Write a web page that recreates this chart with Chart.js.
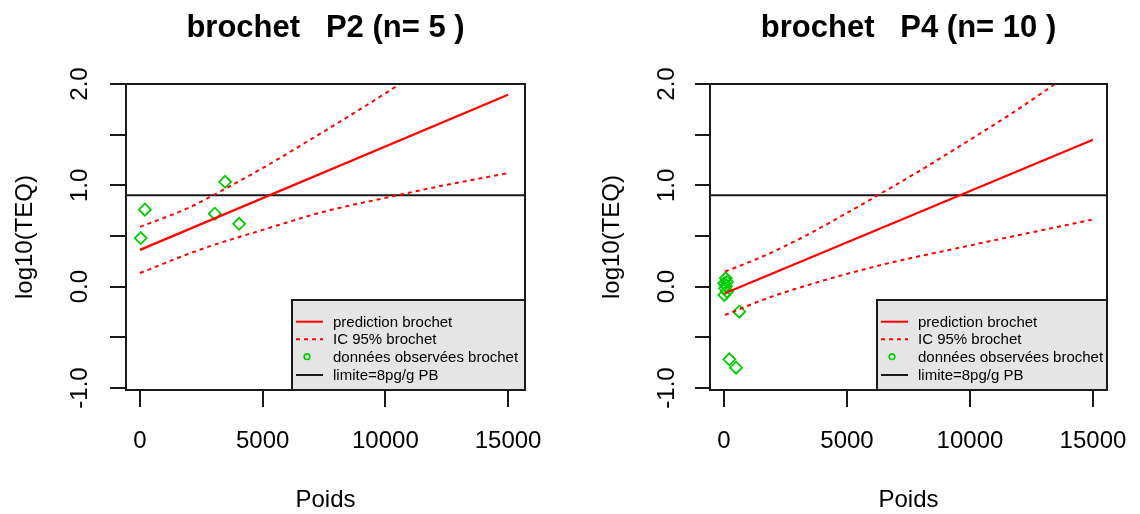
<!DOCTYPE html>
<html><head><meta charset="utf-8">
<script src="https://cdn.jsdelivr.net/npm/chart.js@4"></script>
<style>
html,body{margin:0;padding:0;background:#fff;}
body{width:1140px;height:514px;position:relative;overflow:hidden;}
.panel{position:absolute;top:0;height:514px;}
canvas{display:block;}
</style></head><body>
<div class="panel" style="left:0;width:570px"><canvas id="c1" width="570" height="514"></canvas></div>
<div class="panel" style="left:584px;width:556px"><canvas id="c2" width="556" height="514"></canvas></div>
<script>
// ---------- data ----------
const titles = ['brochet   P2 (n= 5 )', 'brochet   P4 (n= 10 )'];
const xTicks = [0, 5000, 10000, 15000];
const yTicks = [-1, -0.5, 0, 0.5, 1, 1.5, 2];
const limitValue = 0.903;
const legendLabels = ['prediction brochet', 'IC 95% brochet', 'données observées brochet', 'limite=8pg/g PB'];

// P2 (left panel)
const p2PointsX = [30, 200, 3050, 3470, 4040];
const p2PointsY = [0.48, 0.76, 0.72, 1.035, 0.62];
const p2PredX = [0, 15000];
const p2PredY = [0.363, 1.894];
const p2UpperX = [0, 2000, 3500, 5000, 6800, 8700, 10600];
const p2UpperY = [0.59, 0.78, 0.97, 1.17, 1.43, 1.71, 2.0];
const p2LowerX = [0, 2500, 5000, 7500, 10000, 12500, 15000];
const p2LowerY = [0.135, 0.37, 0.56, 0.74, 0.876, 1.005, 1.12];

// P4 (right panel)
const p4PointsX = [10, 70, 120, 40, 80, 15, 120, 620, 215, 490];
const p4PointsY = [0.034, 0.083, 0.045, -0.016, 0.007, -0.082, -0.05, -0.247, -0.717, -0.80];
const p4PredX = [40, 15000];
const p4PredY = [-0.065, 1.45];
const p4UpperX = [40, 1500, 3300, 4800, 6270, 8000, 9870, 11700, 13455];
const p4UpperY = [0.148, 0.29, 0.50, 0.70, 0.905, 1.15, 1.43, 1.71, 2.0];
const p4LowerX = [40, 1940, 6000, 10070, 14950];
const p4LowerY = [-0.28, -0.099, 0.19, 0.41, 0.66];

// ---------- helpers ----------
const FONT = "'Liberation Sans', Arial, Helvetica, sans-serif";
const RED = '#ff0000', GREEN = '#00cd00', INK = '#1a1a1a';
const pts = (xs, ys) => xs.map((x, i) => ({x: x, y: ys[i]}));

const boxPlugin = {
  id: 'rbox',
  afterDatasetsDraw(chart) {
    const ca = chart.chartArea, ctx = chart.ctx;
    ctx.save();
    ctx.strokeStyle = INK; ctx.lineWidth = 2;
    ctx.strokeRect(ca.left, ca.top, ca.right - ca.left, ca.bottom - ca.top);
    ctx.restore();
  }
};

const legendPlugin = {
  id: 'rlegend',
  afterDraw(chart, args, opts) {
    const ca = chart.chartArea, ctx = chart.ctx;
    const w = opts.width, h = opts.height;
    const x0 = ca.right - w, y0 = ca.bottom - h;
    ctx.save();
    ctx.fillStyle = '#e5e5e5';
    ctx.fillRect(x0, y0, w, h);
    ctx.strokeStyle = INK; ctx.lineWidth = 2;
    ctx.strokeRect(x0, y0, w, h);
    const rows = [21.7, 39.3, 56.7, 75];
    ctx.font = '15px ' + FONT;
    ctx.fillStyle = '#000';
    ctx.textBaseline = 'middle';
    ctx.textAlign = 'left';
    legendLabels.forEach((lab, i) => {
      const y = y0 + rows[i];
      ctx.save();
      if (i === 0 || i === 1 || i === 3) {
        ctx.strokeStyle = i === 3 ? INK : RED;
        ctx.lineWidth = 2;
        if (i === 1) ctx.setLineDash([4, 4]);
        ctx.beginPath(); ctx.moveTo(x0 + 4, y); ctx.lineTo(x0 + 31, y); ctx.stroke();
      } else {
        ctx.strokeStyle = GREEN; ctx.lineWidth = 1.6;
        ctx.beginPath(); ctx.arc(x0 + 15, y, 2.8, 0, Math.PI * 2); ctx.stroke();
      }
      ctx.restore();
      ctx.fillText(lab, x0 + 41, y + 1);
    });
    ctx.restore();
  }
};

function makeChart(id, cfg) {
  const datasets = [
    {label: legendLabels[0], data: pts(cfg.predX, cfg.predY), showLine: true, borderColor: RED, borderWidth: 2.2, pointRadius: 0},
    {label: legendLabels[1], data: pts(cfg.upX, cfg.upY), showLine: true, borderColor: RED, borderWidth: 2, borderDash: [4, 4], pointRadius: 0, cubicInterpolationMode: 'monotone'},
    {label: legendLabels[1], data: pts(cfg.loX, cfg.loY), showLine: true, borderColor: RED, borderWidth: 2, borderDash: [4, 4], pointRadius: 0, cubicInterpolationMode: 'monotone'},
    {label: legendLabels[3], data: [{x: cfg.xMin, y: limitValue}, {x: cfg.xMax, y: limitValue}], showLine: true, borderColor: INK, borderWidth: 2, pointRadius: 0},
    {label: legendLabels[2], data: pts(cfg.ptX, cfg.ptY), showLine: false, pointStyle: 'rectRot', pointRadius: 6, pointBorderWidth: 1.8, pointBorderColor: GREEN, pointBackgroundColor: 'rgba(0,0,0,0)', borderColor: GREEN, backgroundColor: 'rgba(0,0,0,0)'}
  ];
  return new Chart(document.getElementById(id), {
    type: 'scatter',
    data: {datasets: datasets},
    options: {
      responsive: false, animation: false, devicePixelRatio: 1,
      layout: {padding: {left: 0, right: cfg.padRight, top: 0, bottom: 0}},
      plugins: {
        legend: {display: false},
        tooltip: {enabled: false},
        title: {display: true, text: cfg.title, fullSize: false, align: 'center', color: '#000',
          font: {family: FONT, size: 31, weight: 'bold', lineHeight: 1.2}, padding: {top: 10, bottom: 36.8}},
        rlegend: {width: cfg.legW, height: 90}
      },
      scales: {
        x: {
          type: 'linear', min: cfg.xMin, max: cfg.xMax,
          afterBuildTicks: s => { s.ticks = xTicks.map(v => ({value: v})); },
          afterFit: s => { s.height = 124; s.paddingLeft = 0; s.paddingRight = 0; },
          ticks: {autoSkip: false, minRotation: 0, maxRotation: 0, padding: 20, color: '#000',
            font: {family: FONT, size: 24}, callback: v => String(v)},
          grid: {drawOnChartArea: false, drawTicks: true, tickLength: 17, color: INK, lineWidth: 2},
          border: {display: true, color: INK, width: 2},
          title: {display: true, text: 'Poids', color: '#000', font: {family: FONT, size: 24, lineHeight: 1}, padding: {top: 0, bottom: 2}}
        },
        y: {
          type: 'linear', min: -1.02, max: 2.0,
          afterBuildTicks: s => { s.ticks = yTicks.map(v => ({value: v})); },
          afterFit: s => { s.width = 126; s.paddingTop = 0; s.paddingBottom = 0; },
          ticks: {autoSkip: false, minRotation: 90, maxRotation: 90, crossAlign: 'center', padding: cfg.yTickPad, color: '#000',
            font: {family: FONT, size: 24}, callback: v => Number.isInteger(v) ? v.toFixed(1) : ''},
          grid: {drawOnChartArea: false, drawTicks: true, tickLength: cfg.yTickLen, color: INK, lineWidth: 2},
          border: {display: true, color: INK, width: 2},
          title: {display: true, text: 'log10(TEQ)', color: '#000', font: {family: FONT, size: 24, lineHeight: 1}, padding: {top: cfg.yTitlePad, bottom: 0}}
        }
      }
    },
    plugins: [boxPlugin, legendPlugin]
  });
}

makeChart('c1', {title: titles[0], padRight: 45, xMin: -570, xMax: 15690, legW: 233,
  yTickPad: 9.3, yTickLen: 16, yTitlePad: 13,
  predX: p2PredX, predY: p2PredY, upX: p2UpperX, upY: p2UpperY, loX: p2LowerX, loY: p2LowerY, ptX: p2PointsX, ptY: p2PointsY});
makeChart('c2', {title: titles[1], padRight: 33, xMin: -570, xMax: 15570, legW: 230,
  yTickPad: 7.3, yTickLen: 15, yTitlePad: 16,
  predX: p4PredX, predY: p4PredY, upX: p4UpperX, upY: p4UpperY, loX: p4LowerX, loY: p4LowerY, ptX: p4PointsX, ptY: p4PointsY});
</script>
</body></html>
